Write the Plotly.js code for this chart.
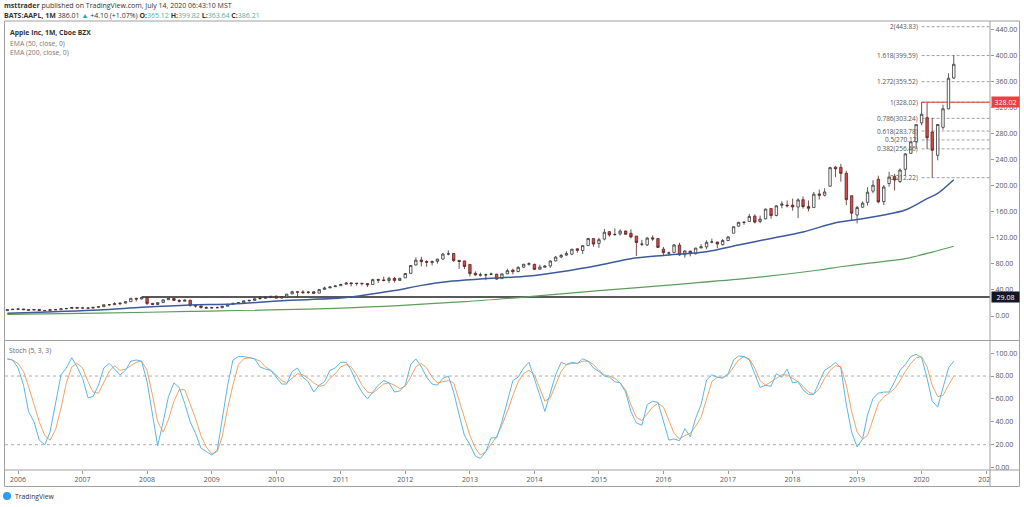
<!DOCTYPE html>
<html><head><meta charset="utf-8">
<script src="https://cdn.plot.ly/plotly-3.0.1.min.js"></script>
<style>html,body{margin:0;padding:0;background:#fff;}#chart{width:1024px;height:507px;}</style>
</head><body><div id="chart"></div>
<script>
// ---------- DATA (monthly AAPL, Nov 2005 .. Jul 2020) ----------
const firstMonth = [2005, 11];
const opens = [
  8.2, 9.7,
  10.4, 10.8, 9.8, 9.0, 10.1, 8.6, 8.2, 9.7, 9.7, 11.0, 11.6, 13.1,
  12.2, 12.2, 12.1, 13.3, 14.3, 17.3, 17.5, 18.9, 19.8, 22.0, 27.1, 26.1,
  28.5, 19.4, 17.7, 20.6, 24.9, 26.9, 23.9, 22.7, 24.3, 16.2, 15.4, 13.1,
  12.3, 12.8, 12.8, 15.0, 18.0, 19.5, 20.4, 23.4, 24.0, 26.5, 27.1, 28.7,
  30.5, 27.5, 29.4, 33.9, 37.1, 36.9, 36.1, 37.2, 35.1, 40.9, 43.2, 45.0,
  46.5, 48.8, 50.8, 50.2, 50.3, 49.8, 48.4, 56.1, 55.4, 54.5, 57.8, 54.6,
  58.5, 65.5, 78.3, 85.9, 83.6, 81.9, 83.9, 87.4, 95.1, 95.9, 85.4, 84.5,
  79.1, 65.6, 62.5, 63.1, 64.2, 64.0, 57.4, 64.7, 70.4, 68.3, 74.9, 79.6,
  79.4, 71.8, 74.8, 76.8, 84.6, 90.6, 93.5, 94.9, 103.1, 100.6, 108.0, 118.8,
  111.4, 118.1, 129.3, 124.8, 126.1, 130.3, 126.9, 122.6, 110.2, 109.1, 119.9, 118.8,
  102.6, 96.5, 97.6, 108.8, 94.0, 99.6, 95.5, 104.4, 106.1, 113.5, 113.5, 109.5,
  115.8, 127.0, 137.9, 143.7, 145.1, 153.2, 144.9, 149.1, 164.8, 154.3, 169.9, 170.0,
  170.2, 167.2, 178.5, 167.9, 166.4, 187.3, 185.3, 199.1, 228.4, 228.0, 219.0, 184.5,
  154.9, 167.0, 174.3, 191.6, 209.9, 175.6, 203.3, 213.9, 206.4, 225.1, 249.5, 267.3,
  296.2, 304.3, 282.3, 246.5, 289.5, 317.8, 365.12
];
const highs = [
  9.7, 10.9,
  12.2, 11.0, 10.0, 10.4, 10.3, 9.1, 9.9, 10.0, 11.2, 11.9, 13.2, 13.5,
  14.0, 13.0, 13.7, 14.4, 17.5, 18.0, 21.0, 20.1, 22.2, 27.3, 27.9, 29.0,
  28.6, 20.0, 21.1, 25.0, 27.2, 27.5, 25.6, 25.7, 24.7, 16.7, 16.0, 14.6,
  14.0, 14.4, 15.3, 18.1, 19.7, 20.9, 23.6, 24.3, 26.7, 30.2, 29.8, 30.6,
  31.2, 29.4, 33.8, 38.8, 37.7, 39.8, 38.1, 37.7, 41.3, 45.0, 45.9, 46.7,
  49.2, 52.1, 51.6, 50.6, 50.7, 50.0, 57.2, 57.1, 60.4, 60.3, 60.0, 58.4,
  65.9, 78.3, 90.0, 90.9, 85.6, 85.0, 88.0, 96.8, 100.7, 96.5, 85.8, 84.9,
  79.3, 68.5, 66.6, 64.9, 66.5, 65.0, 64.9, 72.7, 72.5, 76.2, 79.8, 82.2,
  80.0, 78.7, 77.7, 85.6, 91.9, 95.1, 99.4, 102.9, 103.7, 108.0, 119.8, 119.2,
  120.0, 133.6, 130.3, 134.5, 132.9, 131.4, 133.0, 122.6, 116.9, 121.2, 123.8, 119.9,
  105.9, 98.9, 110.4, 112.4, 100.7, 100.0, 104.6, 110.2, 116.2, 118.7, 113.8, 118.0,
  122.4, 137.5, 144.5, 145.5, 156.7, 156.0, 154.0, 164.9, 164.9, 170.2, 176.2, 177.2,
  180.1, 180.6, 183.5, 177.3, 190.4, 193.9, 196.0, 228.9, 229.7, 233.5, 222.9, 184.9,
  169.0, 175.9, 197.7, 208.5, 215.3, 201.0, 221.4, 218.0, 226.4, 249.8, 268.0, 294.0,
  328.02, 327.2, 304.0, 294.5, 324.2, 372.4, 399.82
];
const lows = [
  8.1, 9.6,
  10.3, 9.5, 8.4, 9.0, 8.4, 7.8, 7.2, 9.2, 9.6, 10.7, 11.6, 11.6,
  11.7, 11.9, 12.0, 12.9, 14.2, 15.4, 17.0, 16.6, 19.3, 21.8, 22.4, 25.5,
  16.9, 16.6, 16.9, 20.1, 24.8, 23.7, 20.9, 22.4, 14.3, 13.0, 11.3, 11.9,
  11.7, 12.6, 11.8, 14.9, 17.7, 19.1, 19.5, 22.1, 23.7, 25.9, 26.8, 27.4,
  27.2, 27.0, 29.3, 33.6, 28.5, 33.8, 33.9, 34.5, 35.0, 40.2, 42.6, 44.8,
  46.4, 48.5, 45.5, 46.6, 47.1, 44.4, 48.3, 50.6, 53.1, 50.6, 51.4, 53.9,
  58.4, 65.1, 77.4, 76.1, 75.7, 77.5, 80.3, 86.3, 93.1, 82.9, 72.3, 72.0,
  60.6, 62.0, 60.5, 55.0, 62.9, 55.6, 57.3, 64.3, 63.9, 67.0, 73.6, 77.2,
  70.5, 71.3, 74.7, 73.9, 83.9, 88.9, 92.6, 93.3, 97.1, 95.2, 107.7, 106.3,
  104.6, 116.1, 121.6, 123.4, 123.4, 124.5, 119.2, 92.0, 107.4, 107.3, 115.4, 104.8,
  93.0, 92.6, 97.4, 92.5, 89.5, 91.5, 94.4, 104.0, 102.5, 112.3, 104.1, 108.1,
  114.8, 127.0, 137.1, 140.1, 144.3, 142.2, 142.4, 148.4, 149.2, 152.9, 165.3, 166.5,
  161.7, 150.2, 164.9, 160.6, 166.4, 178.7, 183.4, 198.9, 213.2, 206.1, 170.3, 146.6,
  142.0, 165.9, 169.5, 188.4, 172.9, 170.3, 198.4, 192.6, 204.2, 215.1, 249.2, 256.3,
  292.75, 256.4, 212.22, 238.9, 285.9, 317.2, 363.64
];
const closes = [
  9.69, 10.27,
  10.78, 9.78, 8.96, 10.06, 8.54, 8.18, 9.71, 9.68, 11.0, 11.58, 13.09, 12.12,
  12.25, 12.09, 13.27, 14.26, 17.34, 17.43, 18.82, 19.78, 21.92, 27.14, 26.03, 28.30,
  19.34, 17.86, 20.50, 24.85, 26.96, 23.92, 22.71, 24.22, 16.24, 15.37, 13.24, 12.19,
  12.88, 12.76, 15.02, 17.98, 19.40, 20.35, 23.34, 24.03, 26.48, 26.93, 28.56, 30.10,
  27.44, 29.23, 33.57, 37.30, 36.70, 35.93, 36.75, 34.73, 40.54, 43.00, 44.45, 46.08,
  48.47, 50.46, 49.79, 50.01, 49.69, 47.95, 55.78, 54.98, 54.47, 57.83, 54.60, 57.86,
  65.21, 77.49, 85.65, 83.43, 82.53, 83.43, 87.25, 95.03, 95.30, 85.05, 83.61, 76.02,
  65.07, 63.06, 63.24, 63.25, 64.25, 56.65, 64.65, 69.60, 68.11, 74.67, 79.44, 80.15,
  71.51, 75.18, 76.68, 84.30, 90.43, 92.93, 95.60, 102.50, 100.75, 108.00, 118.93, 110.38,
  117.16, 128.46, 124.43, 125.15, 130.28, 125.43, 121.30, 112.76, 110.30, 119.50, 118.30, 105.26,
  97.34, 96.69, 108.99, 93.74, 99.86, 95.60, 104.21, 106.10, 113.05, 113.54, 110.52, 115.82,
  121.35, 136.99, 143.66, 143.65, 152.76, 144.02, 148.73, 164.00, 154.12, 169.04, 171.85, 169.23,
  167.43, 178.12, 167.78, 165.26, 186.87, 185.11, 190.29, 227.63, 225.74, 218.86, 178.58, 157.74,
  166.44, 173.15, 189.95, 200.67, 175.07, 197.92, 213.04, 208.74, 223.97, 248.76, 267.25, 293.65,
  309.51, 273.36, 254.29, 293.80, 317.94, 364.80, 386.21
];
const stochK = [
  95, 94, 87, 72, 49, 40, 24, 20, 31, 55, 81, 87,
  96, 88, 78, 61, 62, 72, 87, 91, 86, 81, 85, 93,
  94, 93, 75, 46, 19, 40, 62, 74, 70, 56, 40, 30,
  17, 14, 11, 15, 43, 72, 94, 97, 97, 96, 95, 88,
  86, 85, 79, 73, 73, 84, 87, 79, 75, 66, 72, 75,
  85, 87, 92, 92, 85, 74, 66, 60, 66, 72, 76, 74,
  66, 67, 72, 90, 95, 88, 79, 73, 72, 78, 80, 66,
  46, 28, 20, 10, 8, 14, 26, 26, 40, 58, 76, 79,
  87, 92, 78, 63, 49, 66, 81, 92, 90, 92, 91, 95,
  93, 87, 84, 80, 79, 75, 74, 66, 49, 39, 37, 55,
  58, 57, 40, 24, 25, 23.5, 34, 27, 43, 55, 76.5, 81,
  79, 78, 82, 94, 97.5, 97, 94, 82, 70, 72, 71, 82,
  79, 86, 74, 75, 68, 64, 64, 75, 85, 88, 92, 87,
  55, 31, 18, 25, 46, 60.5, 65, 66, 66, 75, 85, 90,
  97, 99, 96, 78, 58, 53, 71, 87, 93
];
const stochD = [
  95, 94, 91, 84, 71, 56, 40, 28, 24, 33, 52, 74,
  88, 91, 87, 75, 66, 65, 75, 84, 89, 85, 86, 89,
  92, 93, 85, 63, 40, 31, 42, 58, 68, 68, 56, 43,
  28, 18, 12, 14, 27, 52, 72, 90, 95, 96, 95, 93,
  88, 85, 81, 76, 74, 78, 82, 81, 78, 74, 71, 72,
  78, 82, 88, 90, 88, 81, 72, 66, 65, 69, 73, 74,
  72, 69, 71, 79, 88, 91, 87, 79, 74, 75, 76, 74,
  58, 42, 28, 17, 11, 14, 20, 27, 37, 49, 63, 75,
  82, 85, 81, 69, 58, 61, 72, 84, 90, 91, 91, 93,
  93, 90, 85, 81, 80, 78, 74, 68, 55, 44, 41, 47,
  53, 56, 53, 41, 30, 25, 28, 30, 36, 44, 60, 75,
  79, 79, 81, 88, 94, 97, 95, 87, 76, 72, 75, 78,
  81, 81, 78, 75, 71, 66, 64, 69, 78, 85, 89, 88,
  72, 49, 31, 25, 28, 43, 56, 62, 65, 69, 76, 84,
  91, 96, 97, 88, 72, 62, 63, 72, 80
];
// EMA lines at sample months
const ema50Dates = ['2005-11-01','2007-04-01','2007-12-01','2008-09-01','2009-05-01','2010-02-01','2011-01-01','2011-05-01','2011-11-01','2012-04-01','2012-09-01','2013-03-01','2013-12-01','2014-06-01','2015-01-01','2015-07-01','2016-01-01','2016-09-01','2017-03-01','2017-09-01','2018-03-01','2018-09-01','2019-01-01','2019-06-01','2019-10-01','2020-02-01','2020-04-01','2020-07-01'];
const ema50Vals  = [4.1, 9.2, 13.3, 16.9, 18.4, 23.5, 27.5, 31.5, 39, 47, 53, 56.7, 61.3, 68, 78, 88, 93, 98.7, 109, 119, 129, 143, 148, 155, 162.6, 180, 188, 209];
const ema200Dates = ['2005-11-01','2007-04-01','2008-09-01','2011-01-01','2012-12-01','2013-12-01','2015-01-01','2016-02-01','2017-05-01','2018-06-01','2018-10-01','2019-03-01','2019-10-01','2020-03-01','2020-07-01'];
const ema200Vals  = [2.6, 4.5, 7, 12, 22, 29.6, 38.8, 47.5, 58, 70.6, 75.6, 80.8, 88, 98, 107];
// Drawings
const fibRatios = ['0', '0.382', '0.5', '0.618', '0.786', '1', '1.272', '1.618', '2'];
const fibLevels = [212.22, 256.46, 270.12, 283.78, 303.24, 328.02, 359.52, 399.59, 443.83];
const fibStart = '2020-01-01';
const rayRed = {start: '2020-01-01', level: 328.02};
const rayBlack = {start: '2007-12-01', level: 29.08};
const priceTicks = [0, 40, 80, 120, 160, 200, 240, 280, 320, 360, 400, 440];
const stochTicks = [0, 20, 40, 60, 80, 100];
const stochBands = [80, 20];

// ---------- build ----------
const months = [];
{ let y = firstMonth[0], m = firstMonth[1];
  for (let i = 0; i < closes.length; i++) {
    months.push(y + '-' + String(m).padStart(2, '0') + '-01');
    m++; if (m > 12) { m = 1; y++; }
  }
}
const XR = ['2005-10-19', '2021-01-22'];
const L = 5, R = 990, T = 21, B = 470;
const P = x => (x - L) / (R - L);
const Q = y => (B - y) / (B - T);
const FONT = 'Open Sans, Liberation Sans, sans-serif';

const traces = [
  {type: 'candlestick', x: months, open: opens, high: highs, low: lows, close: closes,
   xaxis: 'x', yaxis: 'y', whiskerwidth: 0,
   increasing: {fillcolor: '#ffffff', line: {color: '#333333', width: 0.8}},
   decreasing: {fillcolor: '#e04848', line: {color: '#5a2222', width: 0.8}},
   hoverinfo: 'skip'},
  {type: 'scatter', mode: 'lines', x: ema200Dates, y: ema200Vals, xaxis: 'x', yaxis: 'y',
   line: {color: '#5c9e5c', width: 1.2, shape: 'spline', smoothing: 0.8}, hoverinfo: 'skip'},
  {type: 'scatter', mode: 'lines', x: ema50Dates, y: ema50Vals, xaxis: 'x', yaxis: 'y',
   line: {color: '#3d5a9c', width: 1.5, shape: 'spline', smoothing: 0.8}, hoverinfo: 'skip'},
  {type: 'scatter', mode: 'lines', x: months, y: stochD, xaxis: 'x', yaxis: 'y2',
   line: {color: '#f2a366', width: 1}, hoverinfo: 'skip'},
  {type: 'scatter', mode: 'lines', x: months, y: stochK, xaxis: 'x', yaxis: 'y2',
   line: {color: '#5db6e4', width: 1}, hoverinfo: 'skip'}
];

const shapes = [];
fibLevels.forEach(v => shapes.push({type: 'line', xref: 'x', yref: 'y', x0: fibStart, x1: XR[1], y0: v, y1: v,
  line: {color: '#8a8a8a', width: 0.8, dash: '3px,2px'}, layer: 'below'}));
shapes.push({type: 'line', xref: 'x', yref: 'y', x0: rayRed.start, x1: XR[1], y0: rayRed.level, y1: rayRed.level,
  line: {color: '#e53935', width: 1}, layer: 'below'});
shapes.push({type: 'line', xref: 'x', yref: 'y', x0: rayBlack.start, x1: XR[1], y0: rayBlack.level, y1: rayBlack.level,
  line: {color: '#222222', width: 1.5}, layer: 'below'});
stochBands.forEach(v => shapes.push({type: 'line', xref: 'paper', yref: 'y2', x0: 0, x1: 1, y0: v, y1: v,
  line: {color: '#9a9a9a', width: 0.8, dash: '3px,3px'}, layer: 'below'}));
const G = '#a0a0a0';
shapes.push({type: 'rect', xref: 'paper', yref: 'paper', x0: P(991), x1: P(1019), y0: Q(486), y1: Q(471),
  fillcolor: '#ffffff', line: {width: 0}, layer: 'above'});
shapes.push({type: 'rect', xref: 'paper', yref: 'paper', x0: P(4.5), x1: P(1019.5), y0: Q(486.5), y1: Q(21),
  line: {color: G, width: 1}, layer: 'above'});
shapes.push({type: 'line', xref: 'paper', yref: 'paper', x0: P(4.5), x1: P(1019.5), y0: Q(340.5), y1: Q(340.5),
  line: {color: G, width: 1}, layer: 'above'});
shapes.push({type: 'line', xref: 'paper', yref: 'paper', x0: P(4.5), x1: P(1019.5), y0: Q(470), y1: Q(470),
  line: {color: G, width: 1}, layer: 'above'});
shapes.push({type: 'line', xref: 'paper', yref: 'paper', x0: P(990), x1: P(990), y0: Q(21), y1: Q(486.5),
  line: {color: G, width: 1}, layer: 'above'});
shapes.push({type: 'circle', xref: 'paper', yref: 'paper', x0: P(3), x1: P(11), y0: Q(500), y1: Q(492),
  fillcolor: '#2a9df4', line: {width: 0}, layer: 'above'});

const ann = [];
const txt = (x, y, text, opts = {}) => ann.push(Object.assign({xref: 'paper', yref: 'paper', x: P(x), y: Q(y),
  xanchor: 'left', yanchor: 'middle', showarrow: false, text: text,
  font: {family: FONT, size: 7, color: '#444'}}, opts));
txt(2, 5.5, '<b>msttrader</b> published on TradingView.com, July 14, 2020 06:43:10 MST', {font: {family: FONT, size: 7, color: '#333'}});
const tc = s => '<span style="color:#4fb3a5">' + s + '</span>';
txt(2, 16, '<b>BATS:AAPL, 1M</b> 386.01 <span style="color:#26a69a">▲</span> +4.10 (+1.07%) <b>O:</b>' + tc('365.12') +
  ' <b>H:</b>' + tc('399.82') + ' <b>L:</b>' + tc('363.64') + ' <b>C:</b>' + tc('386.21'), {font: {family: FONT, size: 7, color: '#333'}});
txt(8, 33, '<b>Apple Inc, 1M, Cboe BZX</b>', {font: {family: FONT, size: 6.8, color: '#333'}});
txt(8, 43, 'EMA (50, close, 0)', {font: {family: FONT, size: 6.8, color: '#777'}});
txt(8, 52.5, 'EMA (200, close, 0)', {font: {family: FONT, size: 6.8, color: '#777'}});
txt(7, 350, 'Stoch (5, 3, 3)', {font: {family: FONT, size: 6.8, color: '#666'}});
txt(13, 496, 'TradingView', {font: {family: FONT, size: 6.8, color: '#333'}});
fibLevels.forEach((v, i) => ann.push({xref: 'x', yref: 'y', x: fibStart, y: v, xanchor: 'right', yanchor: 'middle',
  xshift: -2, showarrow: false, text: fibRatios[i] + '(' + v.toFixed(2) + ')',
  font: {family: FONT, size: 6.5, color: '#555'}}));
[[rayRed.level, '#ef3e3e'], [rayBlack.level, '#131722']].forEach(([v, c]) => ann.push({xref: 'paper', yref: 'y',
  x: P(991), y: v, xanchor: 'left', yanchor: 'middle', showarrow: false, text: v.toFixed(2),
  bgcolor: c, width: 26, height: 9, borderpad: 0.5, align: 'center',
  font: {family: FONT, size: 7, color: '#ffffff'}}));

const axFont = {family: FONT, size: 7, color: '#555'};
const layout = {
  width: 1024, height: 507,
  margin: {l: L, r: 1024 - R, t: T, b: 507 - B, pad: 0},
  paper_bgcolor: '#ffffff', plot_bgcolor: '#ffffff', showlegend: false, hovermode: false,
  font: {family: FONT, size: 7, color: '#555'},
  xaxis: {type: 'date', range: XR, anchor: 'y2', tick0: '2006-01-01', dtick: 'M12', tickformat: '%Y',
    showgrid: false, zeroline: false, showline: false, ticks: 'outside', ticklen: 3, tickcolor: '#999',
    tickfont: axFont, rangeslider: {visible: false}, fixedrange: true},
  yaxis: {domain: [Q(340), 1], range: [-36.8, 452.6], side: 'right', anchor: 'x', tickvals: priceTicks,
    tickformat: '.2f', ticks: 'outside', ticklen: 3, tickcolor: '#999', showgrid: false, zeroline: false,
    showline: false, tickfont: axFont, fixedrange: true},
  yaxis2: {domain: [0, Q(341)], range: [-2.1, 110.6], side: 'right', anchor: 'x', tickvals: stochTicks,
    tickformat: '.2f', ticks: 'outside', ticklen: 3, tickcolor: '#999', showgrid: false, zeroline: false,
    showline: false, tickfont: axFont, fixedrange: true},
  shapes: shapes, annotations: ann
};
Plotly.newPlot('chart', traces, layout, {displayModeBar: false, staticPlot: true});
</script></body></html>
